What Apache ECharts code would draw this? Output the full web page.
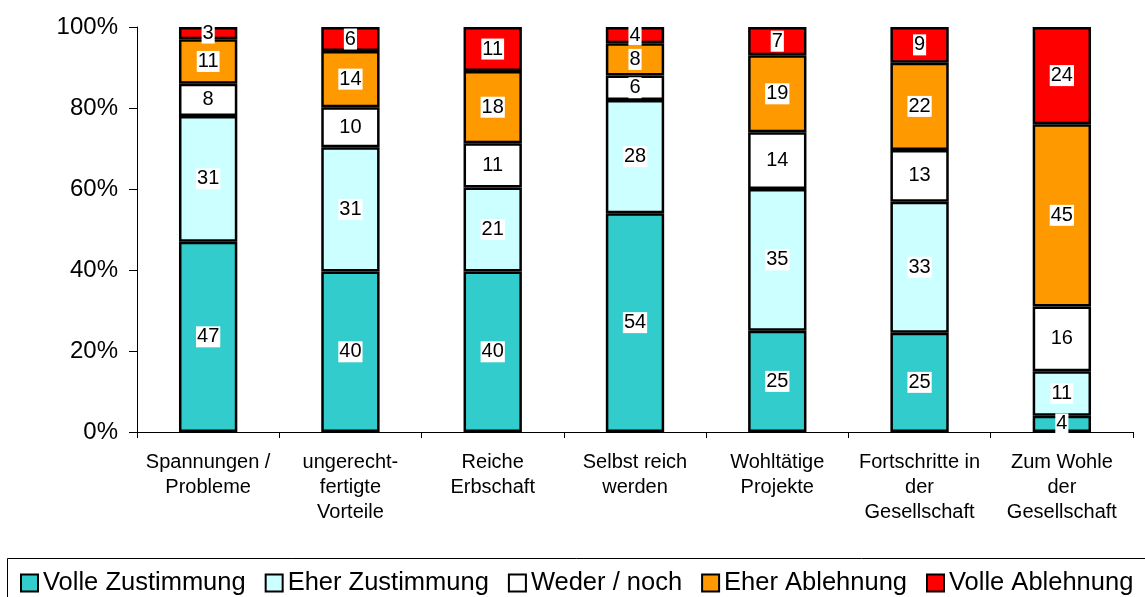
<!DOCTYPE html>
<html>
<head>
<meta charset="utf-8">
<script src="https://cdn.jsdelivr.net/npm/echarts@6/dist/echarts.min.js"></script>
<style>
  html, body { margin: 0; padding: 0; background: #fff; }
  #chart { width: 1145px; height: 597px; }
</style>
</head>
<body>
<div id="chart"></div>
<script>
// Kategorien (Zeilenumbrüche wie im Original)
const categories = [
    'Spannungen /\nProbleme',
    'ungerecht-\nfertigte\nVorteile',
    'Reiche\nErbschaft',
    'Selbst reich\nwerden',
    'Wohltätige\nProjekte',
    'Fortschritte in\nder\nGesellschaft',
    'Zum Wohle\nder\nGesellschaft'
];

const volleZustimmung = [47, 40, 40, 54, 25, 25, 4];
const eherZustimmung  = [31, 31, 21, 28, 35, 33, 11];
const wederNoch       = [8, 10, 11, 6, 14, 13, 16];
const eherAblehnung   = [11, 14, 18, 8, 19, 22, 45];
const volleAblehnung  = [3, 6, 11, 4, 7, 9, 24];

const yTicks = [0, 20, 40, 60, 80, 100];

const seriesDefs = [
    { name: 'Volle Zustimmung', data: volleZustimmung, color: '#33CCCC' },
    { name: 'Eher Zustimmung', data: eherZustimmung, color: '#CCFFFF' },
    { name: 'Weder / noch', data: wederNoch, color: '#FFFFFF' },
    { name: 'Eher Ablehnung', data: eherAblehnung, color: '#FF9900' },
    { name: 'Volle Ablehnung', data: volleAblehnung, color: '#FF0000' }
];

// 100%-Stapel: Anteil je Kategorie an der Zeilensumme
const totals = categories.map((_, i) => seriesDefs.reduce((s, d) => s + d.data[i], 0));

const FONT = '"Liberation Sans", Arial, sans-serif';

const chart = echarts.init(document.getElementById('chart'));
chart.setOption({
    animation: false,
    grid: { left: 137, right: 12, top: 27, bottom: 165 },
    legend: {
        left: 20,
        top: 570,
        padding: 0,
        itemWidth: 17,
        itemHeight: 17,
        itemGap: 19,
        icon: 'rect',
        textStyle: { fontFamily: FONT, fontSize: 25.5, color: '#000' },
        data: seriesDefs.map(d => ({
            name: d.name,
            itemStyle: { color: d.color, borderColor: '#000', borderWidth: 2 }
        }))
    },
    graphic: [{
        type: 'rect',
        shape: { x: 7.5, y: 558.5, width: 1150, height: 60 },
        style: { fill: 'none', stroke: '#000', lineWidth: 1 },
        silent: true
    }],
    xAxis: {
        type: 'category',
        data: categories,
        axisLine: { lineStyle: { color: '#000', width: 1 } },
        axisTick: { show: true, length: 6, lineStyle: { color: '#000' } },
        axisLabel: {
            interval: 0,
            margin: 18,
            fontFamily: FONT,
            fontSize: 20,
            lineHeight: 25,
            color: '#000'
        }
    },
    yAxis: {
        type: 'value',
        min: yTicks[0],
        max: yTicks[yTicks.length - 1],
        interval: 20,
        splitLine: { show: false },
        axisLine: { show: true, lineStyle: { color: '#000', width: 1 } },
        axisTick: { show: true, length: 8, lineStyle: { color: '#000' } },
        axisLabel: {
            margin: 19,
            fontFamily: FONT,
            fontSize: 24,
            color: '#000',
            formatter: v => v + '%'
        }
    },
    series: seriesDefs.map(d => ({
        name: d.name,
        type: 'bar',
        stack: 'total',
        barWidth: '41%',
        itemStyle: { color: d.color, borderColor: '#000', borderWidth: 2.5 },
        label: {
            show: true,
            position: 'inside',
            fontFamily: FONT,
            fontSize: 20,
            color: '#000',
            backgroundColor: '#fff',
            padding: [1, 1, 0, 1],
            formatter: p => String(d.data[p.dataIndex])
        },
        data: d.data.map((v, i) => v / totals[i] * 100)
    }))
});
</script>
</body>
</html>
